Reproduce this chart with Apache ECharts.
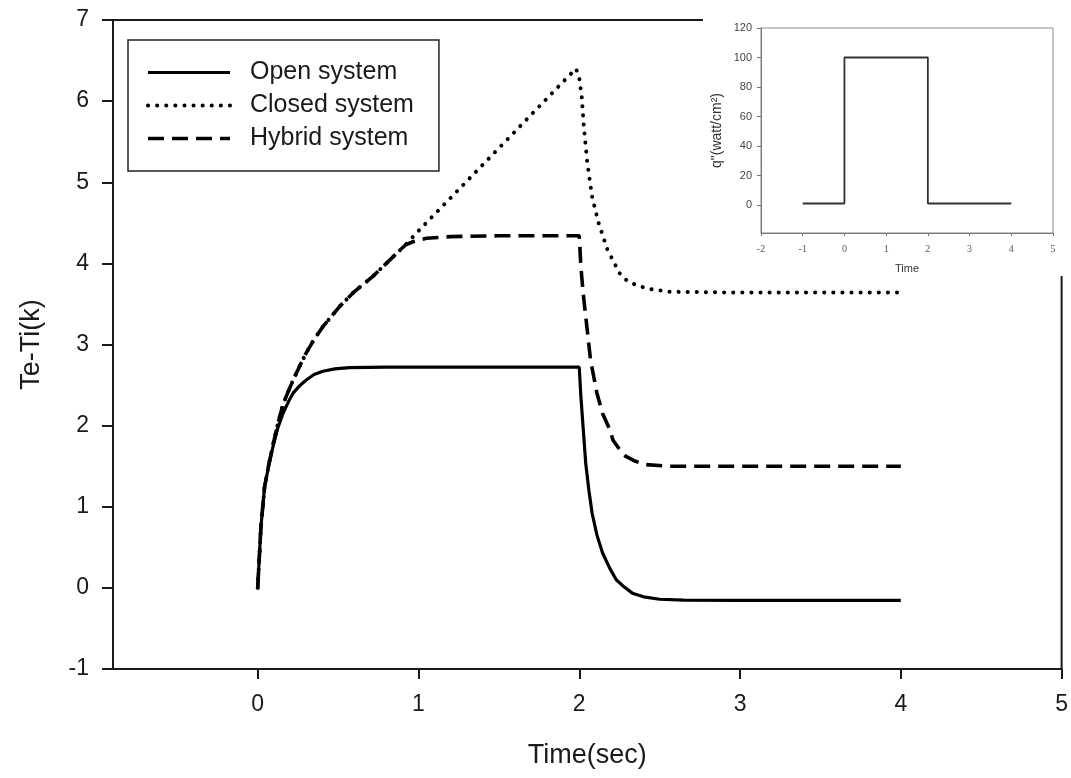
<!DOCTYPE html>
<html>
<head>
<meta charset="utf-8">
<script src="https://cdn.jsdelivr.net/npm/echarts@6/dist/echarts.min.js"></script>
<style>
  html, body { margin: 0; padding: 0; background: #fff; }
  #chart { width: 1071px; height: 778px; }
</style>
</head>
<body>
<div id="chart"></div>
<script>
// Temperature difference responses to a rectangular heat-flux pulse
var seriesNames = ['Open system', 'Closed system', 'Hybrid system'];

var openSystem = [
  [0, 0], [0.02, 0.75], [0.043, 1.25], [0.07, 1.52], [0.095, 1.74], [0.125, 1.97],
  [0.157, 2.15], [0.19, 2.29], [0.22, 2.40], [0.26, 2.49], [0.30, 2.56], [0.35, 2.63],
  [0.405, 2.67], [0.48, 2.70], [0.57, 2.715], [0.8, 2.72], [1.2, 2.72], [1.6, 2.72],
  [2.0, 2.72], [2.01, 2.36], [2.025, 1.95], [2.04, 1.54], [2.06, 1.20], [2.08, 0.92],
  [2.11, 0.65], [2.145, 0.43], [2.19, 0.24], [2.23, 0.10], [2.28, 0.01], [2.33, -0.065],
  [2.40, -0.11], [2.50, -0.14], [2.65, -0.15], [3.0, -0.155], [3.5, -0.155], [4.0, -0.155]
];

var closedSystem = [
  [0, 0], [0.02, 0.75], [0.043, 1.25], [0.07, 1.53], [0.095, 1.76], [0.125, 2.02],
  [0.157, 2.26], [0.19, 2.42], [0.22, 2.56], [0.26, 2.73], [0.30, 2.89], [0.35, 3.06],
  [0.405, 3.22], [0.46, 3.35], [0.51, 3.47], [0.6, 3.65], [0.716, 3.84], [0.80, 4.00],
  [0.92, 4.23], [1.0, 4.40], [1.5, 5.42], [1.9, 6.24], [1.98, 6.40], [2.0, 6.28],
  [2.015, 6.06], [2.03, 5.65], [2.05, 5.24], [2.08, 4.82], [2.12, 4.50], [2.175, 4.17],
  [2.25, 3.88], [2.30, 3.78], [2.37, 3.72], [2.45, 3.68], [2.56, 3.65], [3.0, 3.64],
  [4.0, 3.64]
];

var hybridSystem = [
  [0, 0], [0.02, 0.75], [0.043, 1.25], [0.07, 1.53], [0.095, 1.76], [0.125, 2.02],
  [0.157, 2.26], [0.19, 2.42], [0.22, 2.56], [0.26, 2.73], [0.30, 2.89], [0.35, 3.06],
  [0.405, 3.22], [0.46, 3.35], [0.51, 3.47], [0.6, 3.65], [0.716, 3.84], [0.80, 4.00],
  [0.92, 4.23], [0.97, 4.27], [1.05, 4.31], [1.2, 4.33], [1.5, 4.34], [2.0, 4.34],
  [2.01, 3.96], [2.025, 3.62], [2.04, 3.35], [2.07, 2.81], [2.11, 2.40], [2.145, 2.15],
  [2.19, 1.95], [2.21, 1.82], [2.25, 1.71], [2.29, 1.62], [2.35, 1.56], [2.41, 1.52],
  [2.56, 1.50], [3.0, 1.50], [4.0, 1.50]
];

// Heat flux pulse shown in the small panel
var heatFlux = [[-1, 1], [0, 1], [0, 100], [2, 100], [2, 1], [4, 1]];

var mainXTicks = [0, 1, 2, 3, 4, 5];
var insetYTicks = [0, 20, 40, 60, 80, 100, 120];

var FONT = "'Liberation Sans', Arial, sans-serif";
var SERIF = "'Liberation Serif', 'Times New Roman', serif";
var INK = '#1a1a1a';

var lineStyles = [
  { color: '#000', width: 3.2, type: 'solid' },
  { color: '#000', width: 4, type: [0.1, 9], cap: 'round' },
  { color: '#000', width: 3.6, type: [16, 8] }
];

var chart = echarts.init(document.getElementById('chart'), null, { renderer: 'canvas' });

chart.setOption({
  animation: false,
  backgroundColor: '#fff',
  legend: {
    left: 128,
    top: 40,
    orient: 'vertical',
    padding: [19, 25, 19, 18],
    itemGap: 6,
    itemWidth: 82,
    itemHeight: 20,
    borderColor: '#222',
    borderWidth: 1.5,
    itemStyle: { opacity: 0 },
    textStyle: { fontFamily: FONT, fontSize: 25, color: INK, lineHeight: 27, padding: [0, 0, 0, 15] },
    data: seriesNames.map(function (n, i) {
      return { name: n, lineStyle: lineStyles[i], itemStyle: { opacity: 0 } };
    })
  },
  grid: [
    { left: 113, right: 8, top: 20, bottom: 109, show: true, borderColor: INK, borderWidth: 2, backgroundColor: 'transparent' },
    { left: 761, right: 18, top: 28, bottom: 545, show: true, borderColor: '#8a8a8a', borderWidth: 1, z: 20 }
  ],
  xAxis: [
    {
      gridIndex: 0, type: 'value', min: -0.9, max: 5,
      name: 'Time(sec)', nameLocation: 'middle', nameGap: 73,
      nameTextStyle: { fontFamily: FONT, fontSize: 27, color: INK, verticalAlign: 'top' },
      axisLine: { onZero: false, lineStyle: { color: INK, width: 2 } },
      axisTick: { show: true, length: 10, lineStyle: { color: INK, width: 2 }, customValues: mainXTicks },
      axisLabel: { fontFamily: FONT, fontSize: 23, color: INK, margin: 24, customValues: mainXTicks },
      splitLine: { show: false }
    },
    {
      gridIndex: 1, type: 'value', min: -2, max: 5, interval: 1, z: 20,
      name: 'Time', nameLocation: 'middle', nameGap: 30,
      nameTextStyle: { fontFamily: FONT, fontSize: 11, color: '#333' },
      axisLine: { onZero: false, lineStyle: { color: '#777', width: 1 } },
      axisTick: { show: true, length: 3, lineStyle: { color: '#777' } },
      axisLabel: { fontFamily: SERIF, fontSize: 10, color: '#555', margin: 11 },
      splitLine: { show: false }
    }
  ],
  yAxis: [
    {
      gridIndex: 0, type: 'value', min: -1, max: 7, interval: 1,
      name: 'Te-Ti(k)', nameLocation: 'middle', nameGap: 68, nameRotate: 90,
      nameTextStyle: { fontFamily: FONT, fontSize: 27, color: INK },
      axisLine: { onZero: false, lineStyle: { color: INK, width: 2 } },
      axisTick: { show: true, length: 11, lineStyle: { color: INK, width: 2 } },
      axisLabel: { fontFamily: FONT, fontSize: 23, color: INK, margin: 24 },
      splitLine: { show: false }
    },
    {
      gridIndex: 1, type: 'value', min: -19, max: 120, z: 20,
      name: 'q"(watt/cm²)', nameLocation: 'middle', nameGap: 37, nameRotate: 90,
      nameTextStyle: { fontFamily: FONT, fontSize: 14, color: '#333' },
      axisLine: { onZero: false, lineStyle: { color: '#777', width: 1 } },
      axisTick: { show: true, length: 4, lineStyle: { color: '#777' }, customValues: insetYTicks },
      axisLabel: { fontFamily: FONT, fontSize: 11, color: '#444', margin: 9, customValues: insetYTicks },
      splitLine: { show: false }
    }
  ],
  graphic: [
    {
      type: 'rect', z: 10, silent: true,
      shape: { x: 703, y: 0, width: 368, height: 276 },
      style: { fill: '#fff' }
    }
  ],
  series: [
    {
      name: seriesNames[0], type: 'line', xAxisIndex: 0, yAxisIndex: 0,
      data: openSystem, symbol: 'none', lineStyle: lineStyles[0], itemStyle: { color: '#000' }
    },
    {
      name: seriesNames[1], type: 'line', xAxisIndex: 0, yAxisIndex: 0,
      data: closedSystem, symbol: 'none', lineStyle: lineStyles[1], itemStyle: { color: '#000' }
    },
    {
      name: seriesNames[2], type: 'line', xAxisIndex: 0, yAxisIndex: 0,
      data: hybridSystem, symbol: 'none', lineStyle: lineStyles[2], itemStyle: { color: '#000' }
    },
    {
      name: 'q', type: 'line', xAxisIndex: 1, yAxisIndex: 1, z: 20,
      data: heatFlux, symbol: 'none',
      lineStyle: { color: '#333', width: 1.8 }
    }
  ]
});
</script>
</body>
</html>
